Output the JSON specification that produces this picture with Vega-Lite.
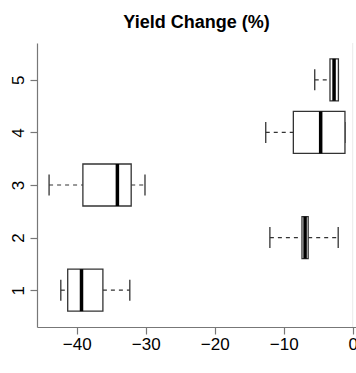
{
  "$schema": "https://vega.github.io/schema/vega-lite/v6.json",
  "autosize": {"type": "none"},
  "padding": {"left": 37, "top": 43, "right": 0, "bottom": 46},
  "width": 319,
  "height": 284,
  "background": "white",
  "title": {"text": "Yield Change (%)", "font": "Liberation Sans", "fontSize": 18, "fontWeight": "bold", "color": "black", "anchor": "middle", "baseline": "alphabetic", "offset": -3},
  "config": {
    "view": {"stroke": null},
    "axis": {"grid": false, "title": null, "domainColor": "#777", "tickColor": "#777", "labelColor": "black", "labelFont": "Liberation Sans", "labelFontSize": 17, "tickSize": 7, "domainWidth": 1.2, "tickWidth": 1.2}
  },
  "data": {"values": [
    {"group": 1, "lower": -42.3, "q1": -41.3, "median": -39.3, "q3": -36.2, "upper": -32.3},
    {"group": 2, "lower": -12.0, "q1": -7.35, "median": -6.9, "q3": -6.45, "upper": -2.1},
    {"group": 3, "lower": -44.0, "q1": -39.1, "median": -34.1, "q3": -32.1, "upper": -30.1},
    {"group": 4, "lower": -12.6, "q1": -8.6, "median": -4.64, "q3": -1.12, "upper": -1.12},
    {"group": 5, "lower": -5.5, "q1": -3.29, "median": -2.7, "q3": -2.07, "upper": -2.07}
  ]},
  "encoding": {
    "y": {"field": "group", "type": "quantitative", "scale": {"domain": [0.3, 5.7], "nice": false, "zero": false, "padding": 0},
      "axis": {"values": [1, 2, 3, 4, 5], "labelAngle": -90, "labelPadding": 3}}
  },
  "layer": [
    {
      "data": {"values": [{}]},
      "mark": {"type": "rule", "color": "#ebebeb", "strokeWidth": 1},
      "encoding": {"x": {"datum": 0, "type": "quantitative"}, "y": null}
    },
    {
      "data": {"values": [{}]},
      "mark": {"type": "rule", "color": "#777", "strokeWidth": 1.2},
      "encoding": {"y": {"datum": 5.7, "type": "quantitative"}}
    },
    {
      "mark": {"type": "rule", "color": "#333", "strokeWidth": 1.2, "strokeDash": [4, 4]},
      "encoding": {
        "x": {"field": "lower", "type": "quantitative", "scale": {"domain": [-45.75, 0.48], "nice": false, "zero": false, "padding": 0},
          "axis": {"values": [-40, -30, -20, -10, 0], "labelPadding": 2}},
        "x2": {"field": "q1"}
      }
    },
    {
      "mark": {"type": "rule", "color": "#333", "strokeWidth": 1.2, "strokeDash": [4, 4]},
      "encoding": {"x": {"field": "q3", "type": "quantitative"}, "x2": {"field": "upper"}}
    },
    {
      "mark": {"type": "tick", "orient": "vertical", "size": 21, "thickness": 1.3, "color": "#333", "opacity": 1},
      "encoding": {"x": {"field": "lower", "type": "quantitative"}}
    },
    {
      "mark": {"type": "tick", "orient": "vertical", "size": 21, "thickness": 1.3, "color": "#333", "opacity": 1},
      "encoding": {"x": {"field": "upper", "type": "quantitative"}}
    },
    {
      "mark": {"type": "bar", "orient": "horizontal", "size": 42, "fill": "white", "stroke": "#333", "strokeWidth": 1.3},
      "encoding": {"x": {"field": "q1", "type": "quantitative"}, "x2": {"field": "q3"}}
    },
    {
      "mark": {"type": "tick", "orient": "vertical", "size": 42, "thickness": 3.5, "color": "black", "opacity": 1},
      "encoding": {"x": {"field": "median", "type": "quantitative"}}
    }
  ]
}
